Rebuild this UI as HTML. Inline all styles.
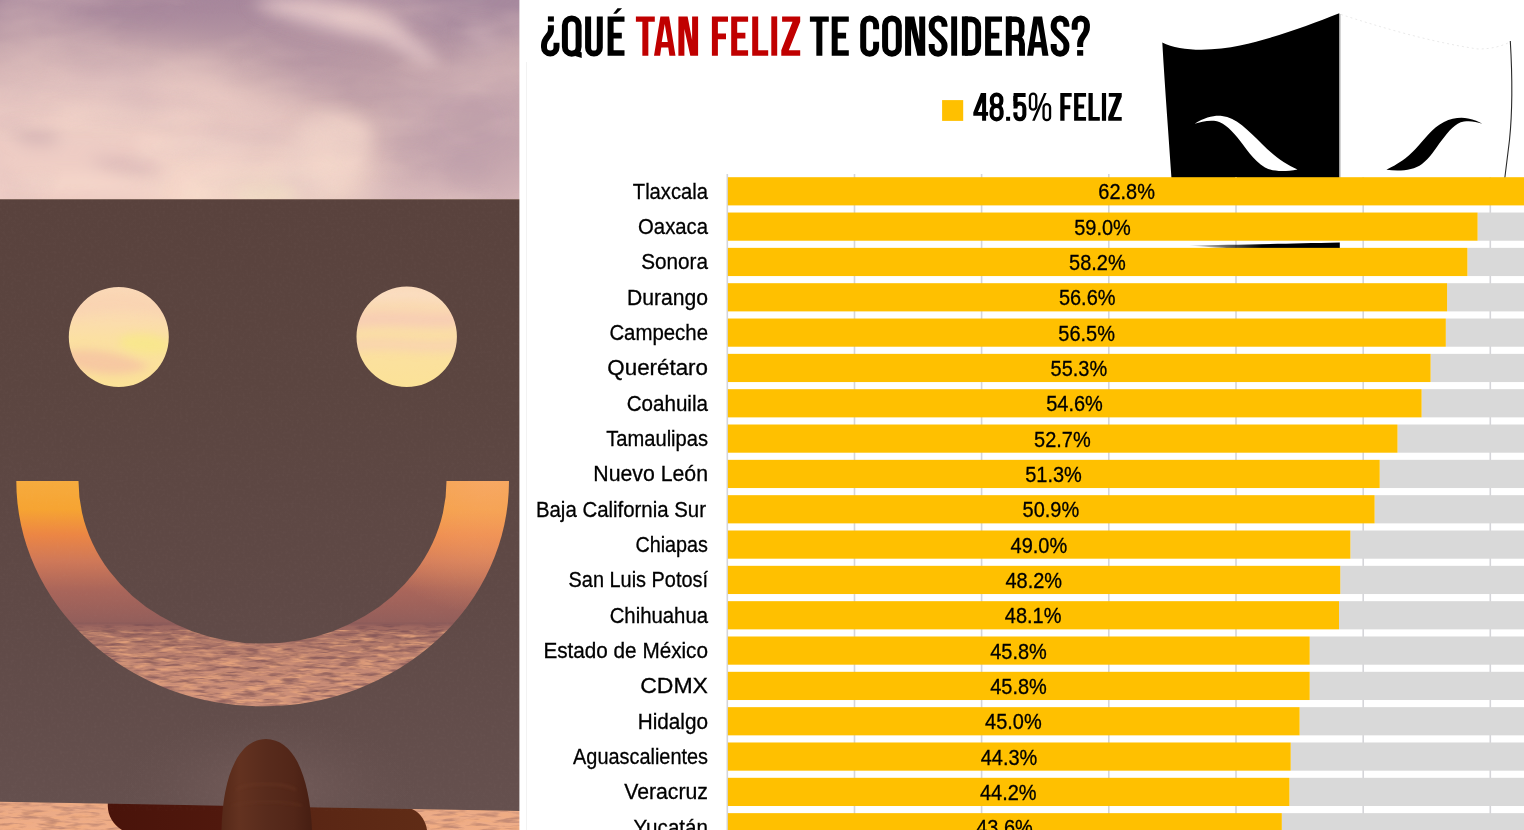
<!DOCTYPE html>
<html><head><meta charset="utf-8"><title>¿Qué tan feliz te consideras?</title>
<style>
html,body{margin:0;padding:0;background:#fff;}
body{width:1524px;height:830px;overflow:hidden;position:relative;font-family:"Liberation Sans",sans-serif;}
svg{position:absolute;left:0;top:0;display:block;}
text{font-family:"Liberation Sans",sans-serif;}
</style></head><body>

<svg width="522" height="830" viewBox="0 0 522 830">
<defs>
<clipPath id="pc"><rect x="0" y="0" width="520" height="830"/></clipPath>
<linearGradient id="sky" x1="0" y1="0" x2="0" y2="200" gradientUnits="userSpaceOnUse">
<stop offset="0" stop-color="#a98a9e"/><stop offset="0.3" stop-color="#bc9ca5"/><stop offset="0.6" stop-color="#c9a9ad"/><stop offset="1" stop-color="#d6b6b9"/>
</linearGradient>
<filter id="b30" x="-50%" y="-50%" width="200%" height="200%"><feGaussianBlur stdDeviation="20"/></filter>
<filter id="b12" x="-50%" y="-50%" width="200%" height="200%"><feGaussianBlur stdDeviation="8"/></filter>
<filter id="b5" x="-50%" y="-50%" width="200%" height="200%"><feGaussianBlur stdDeviation="4"/></filter>
<filter id="b2" x="-20%" y="-20%" width="140%" height="140%"><feGaussianBlur stdDeviation="1.6"/></filter>
<linearGradient id="scene" x1="0" y1="199" x2="0" y2="624" gradientUnits="userSpaceOnUse">
<stop offset="0" stop-color="#f6d4bc"/>
<stop offset="0.207" stop-color="#fad8b8"/>
<stop offset="0.285" stop-color="#fbdcae"/>
<stop offset="0.33" stop-color="#fbe0a2"/>
<stop offset="0.44" stop-color="#fbe298"/>
<stop offset="0.58" stop-color="#f8c060"/>
<stop offset="0.664" stop-color="#f6ab3e"/>
<stop offset="0.73" stop-color="#f6a432"/>
<stop offset="0.79" stop-color="#ec8644"/>
<stop offset="0.852" stop-color="#cf7858"/>
<stop offset="0.922" stop-color="#a9655a"/>
<stop offset="1" stop-color="#915e5b"/>
</linearGradient>
<radialGradient id="sceneR" cx="490" cy="465" r="150" gradientUnits="userSpaceOnUse">
<stop offset="0" stop-color="#f8a872" stop-opacity="0.8"/><stop offset="0.55" stop-color="#f4a068" stop-opacity="0.45"/><stop offset="1" stop-color="#ee9a68" stop-opacity="0"/>
</radialGradient>
<linearGradient id="ocean" x1="0" y1="624" x2="0" y2="830" gradientUnits="userSpaceOnUse">
<stop offset="0" stop-color="#9a645e"/><stop offset="0.08" stop-color="#ae7668"/><stop offset="0.22" stop-color="#c48874"/><stop offset="0.42" stop-color="#cf927a"/><stop offset="0.8" stop-color="#e6a684"/><stop offset="1" stop-color="#f0ae88"/>
</linearGradient>
<filter id="waves" color-interpolation-filters="sRGB" x="0" y="0" width="100%" height="100%">
<feTurbulence type="fractalNoise" baseFrequency="0.045 0.26" numOctaves="3" seed="7" result="n"/>
<feColorMatrix in="n" type="matrix" values="0 0 0 0 0.95  0 0 0 0 0.68  0 0 0 0 0.5  3.0 0 0 0 -1.3"/>
</filter>
<filter id="wavesD" color-interpolation-filters="sRGB" x="0" y="0" width="100%" height="100%">
<feTurbulence type="fractalNoise" baseFrequency="0.05 0.3" numOctaves="3" seed="23" result="n"/>
<feColorMatrix in="n" type="matrix" values="0 0 0 0 0.44  0 0 0 0 0.28  0 0 0 0 0.31  0 3.2 0 0 -1.45"/>
</filter>
<filter id="cloud" color-interpolation-filters="sRGB" x="0" y="0" width="100%" height="100%">
<feTurbulence type="fractalNoise" baseFrequency="0.007 0.017" numOctaves="4" seed="11"/>
<feColorMatrix type="matrix" values="0 0 0 0 0.96  0 0 0 0 0.84  0 0 0 0 0.80  2.4 0 0 0 -0.95"/>
</filter>
<filter id="cloudD" color-interpolation-filters="sRGB" x="0" y="0" width="100%" height="100%">
<feTurbulence type="fractalNoise" baseFrequency="0.006 0.013" numOctaves="3" seed="31"/>
<feColorMatrix type="matrix" values="0 0 0 0 0.64  0 0 0 0 0.52  0 0 0 0 0.62  0 2.2 0 0 -0.95"/>
</filter>
<filter id="grain" color-interpolation-filters="sRGB" x="0" y="0" width="100%" height="100%">
<feTurbulence type="fractalNoise" baseFrequency="0.35" numOctaves="2" seed="3"/>
<feColorMatrix type="matrix" values="0 0 0 0 1  0 0 0 0 0.9  0 0 0 0 0.9  0.5 0 0 0 -0.22"/>
</filter>
<linearGradient id="paper" x1="0" y1="199" x2="0" y2="810" gradientUnits="userSpaceOnUse">
<stop offset="0" stop-color="#59423d"/><stop offset="0.3" stop-color="#5b4540"/><stop offset="0.65" stop-color="#5f4946"/><stop offset="1" stop-color="#65504e"/>
</linearGradient>
<radialGradient id="paperGlow" cx="268" cy="790" r="150" gradientUnits="userSpaceOnUse" gradientTransform="translate(0 395) scale(1 0.5)">
<stop offset="0" stop-color="#7a6260" stop-opacity="0.75"/><stop offset="1" stop-color="#6a5452" stop-opacity="0"/>
</radialGradient>
<linearGradient id="thumb" x1="221" y1="0" x2="312" y2="0" gradientUnits="userSpaceOnUse">
<stop offset="0" stop-color="#552818"/><stop offset="0.2" stop-color="#633220"/><stop offset="0.5" stop-color="#582b1c"/><stop offset="0.8" stop-color="#522618"/><stop offset="1" stop-color="#461e12"/>
</linearGradient>
<linearGradient id="hand" x1="107" y1="0" x2="428" y2="0" gradientUnits="userSpaceOnUse">
<stop offset="0" stop-color="#49130a"/><stop offset="0.35" stop-color="#50180d"/><stop offset="0.65" stop-color="#5a2614"/><stop offset="1" stop-color="#602c16"/>
</linearGradient>
</defs>
<g clip-path="url(#pc)">
<!-- sky -->
<rect x="0" y="0" width="520" height="200" fill="url(#sky)"/>
<g filter="url(#b30)">
<ellipse cx="110" cy="160" rx="265" ry="82" fill="#eecdc5" opacity="0.97"/>
<ellipse cx="80" cy="80" rx="150" ry="30" fill="#e2c2bf" opacity="0.8"/>
<ellipse cx="130" cy="-6" rx="140" ry="26" fill="#a6879b" opacity="0.95"/>
<ellipse cx="475" cy="0" rx="80" ry="40" fill="#a7899e" opacity="0.95"/>
<ellipse cx="470" cy="120" rx="80" ry="70" fill="#c2a3ac" opacity="0.9"/>
<ellipse cx="320" cy="78" rx="66" ry="28" fill="#b797a3" opacity="0.95"/>
<ellipse cx="265" cy="200" rx="110" ry="50" fill="#f8dccb" opacity="0.97"/>
</g>
<g filter="url(#b12)">
<path d="M250,2 C280,-6 320,-4 350,6 C380,10 405,22 410,36 C425,48 440,58 436,66 C415,62 395,44 370,38 C335,34 290,22 250,2Z" fill="#e6c9ca" opacity="0.85"/>
<path d="M330,14 C350,8 385,12 400,26 C402,36 380,38 360,34 C345,30 335,24 330,14Z" fill="#ecd0cc" opacity="0.8"/>
<path d="M300,120 C330,108 360,112 370,130 C372,160 350,185 310,196 L262,198 C280,170 300,150 300,120Z" fill="#f2d5cb" opacity="0.7"/>
<path d="M8,132 C25,126 52,128 62,140 C45,148 22,146 8,132Z" fill="#cbaaae" opacity="0.7"/>
<path d="M88,160 C112,154 150,160 165,173 C140,178 108,172 88,160Z" fill="#cfaeb0" opacity="0.65"/>
<path d="M120,100 C140,96 165,108 172,124 C150,122 130,114 120,100Z" fill="#d8b8b8" opacity="0.55"/>
<path d="M462,30 C478,24 494,32 500,50 C484,48 470,42 462,30Z" fill="#ccaeb8" opacity="0.7"/>
<path d="M60,110 C110,100 170,104 220,120 C170,126 110,124 60,124Z" fill="#f6d8cc" opacity="0.7"/>
<path d="M20,176 C70,168 130,176 170,188 C120,194 60,192 20,190Z" fill="#f8dacc" opacity="0.7"/>
<path d="M140,140 C180,132 230,136 256,150 C220,156 175,154 140,150Z" fill="#f9dccf" opacity="0.75"/>
<ellipse cx="266" cy="196" rx="30" ry="11" fill="#ffeccb" opacity="0.95"/>
</g>
<g opacity="0.28"><rect x="0" y="0" width="520" height="200" filter="url(#cloud)"/></g>
<rect x="0" y="0" width="520" height="200" filter="url(#cloudD)" opacity="0.2"/>
<!-- scene behind paper -->
<rect x="0" y="199" width="520" height="426" fill="url(#scene)"/>
<rect x="300" y="430" width="220" height="195" fill="url(#sceneR)"/>
<!-- eye streaks -->
<g filter="url(#b5)">
<path d="M60,352 C90,346 120,352 150,366 C130,378 90,376 66,364Z" fill="#f6c4a2" opacity="0.85"/>
<path d="M120,338 C140,330 165,334 172,348 C160,358 135,354 120,346Z" fill="#f8e88a" opacity="0.8"/>
<path d="M70,300 C100,292 140,292 170,304 L170,318 C140,308 100,310 70,318Z" fill="#f9d2b2" opacity="0.7"/>
<path d="M350,314 C390,308 430,316 462,312 L462,326 C430,330 390,322 350,328Z" fill="#f7cbb4" opacity="0.85"/>
<path d="M350,340 C390,334 430,344 462,338 L462,350 C430,356 390,346 350,352Z" fill="#f8d0b2" opacity="0.75"/>
<path d="M356,292 C390,286 430,288 458,296 L458,304 C430,298 390,298 356,302Z" fill="#fbdfc6" opacity="0.7"/>
</g>
<!-- ocean -->
<rect x="0" y="624" width="520" height="206" fill="url(#ocean)"/>
<rect x="0" y="630" width="520" height="200" filter="url(#waves)" opacity="0.7"/>
<rect x="0" y="624" width="520" height="110" filter="url(#wavesD)" opacity="0.58"/>
<rect x="0" y="790" width="520" height="40" filter="url(#wavesD)" opacity="0.32"/>
<rect x="0" y="622.5" width="520" height="3" fill="#8a5a5a" opacity="0.5"/>
<!-- hand below paper -->
<path d="M107.8,803 L107.8,806 C108,816 113,824 122,830 L427,830 C426,822 421,813 412,809 L412,803Z" fill="url(#hand)"/>
<!-- paper -->
<path id="pp" fill="url(#paper)" fill-rule="evenodd" d="M0,199.3 H520 V811 L0,801.8 Z
M168.8,337 A50,50 0 1 0 68.8,337 A50,50 0 1 0 168.8,337 Z
M456.9,336.8 A50.2,50.2 0 1 0 356.5,336.8 A50.2,50.2 0 1 0 456.9,336.8 Z
M16.3,481 A246.35,225.3 0 0 0 509,481 L446.5,481 A184,162.5 0 0 1 78.5,481 Z"/>
<path fill="url(#paperGlow)" d="M0,706 H520 V811 L0,801.8Z"/>
<path fill-rule="evenodd" filter="url(#grain)" opacity="0.1" d="M0,199.3 H520 V811 L0,801.8 Z
M168.8,337 A50,50 0 1 0 68.8,337 A50,50 0 1 0 168.8,337 Z
M456.9,336.8 A50.2,50.2 0 1 0 356.5,336.8 A50.2,50.2 0 1 0 456.9,336.8 Z
M16.3,481 A246.35,225.3 0 0 0 509,481 L446.5,481 A184,162.5 0 0 1 78.5,481 Z"/>
<!-- thumb -->
<path d="M221.5,830 C222,803 226.5,778 235,762 C242.5,747.5 253,739 266,739 C279.5,739 290,748 297.5,762 C306,779 311,803 312,830Z" fill="url(#thumb)"/>
<path d="M236,790 C246,782 284,782 296,790" fill="none" stroke="#6e3a26" stroke-width="2" opacity="0.5" filter="url(#b2)"/>
<path d="M232,806 C250,800 284,800 302,806" fill="none" stroke="#6a3824" stroke-width="1.6" opacity="0.5" filter="url(#b2)"/>
</g>
<rect x="519.4" y="0" width="2" height="830" fill="#fff"/>
</svg>

<svg width="1524" height="830" viewBox="0 0 1524 830">
<g id="mask">
<defs>
<linearGradient id="sliv" x1="1189" y1="0" x2="1262" y2="0" gradientUnits="userSpaceOnUse">
<stop offset="0" stop-color="#000" stop-opacity="0"/><stop offset="0.45" stop-color="#000" stop-opacity="0.55"/><stop offset="1" stop-color="#000" stop-opacity="1"/>
</linearGradient>
</defs>
<path d="M1162.3,42.4 C1180,52 1215,51 1240,45.5 C1275,38 1310,25 1338.6,13.6 L1339.4,13.6 V180 H1171.6 C1169,140 1165,90 1162.3,42.4Z" fill="#000"/>
<path d="M1194.6,123.8 C1205,117 1215,115.2 1222,116 C1236,117.5 1248,130 1262,144 C1275,157 1285,164 1297.5,169.5 C1284,172 1272,171.5 1265,167.5 C1253,160.5 1245,146.5 1237,137 C1229.5,128 1222,121.5 1214,120.8 C1207,120.3 1200,121.8 1194.6,123.8Z" fill="#fff"/>
<path d="M1386.4,169.8 C1398,164 1407,158 1415,149.5 C1425,139 1432,128 1444,122 C1452,118 1461,117 1468,118.5 C1474,119.8 1479,121.8 1482.3,123.7 C1476,121.5 1470,120.6 1464,121.5 C1455,123 1449,131 1442,140 C1435,149 1430,158 1422,164 C1413,170.5 1400,171.5 1386.4,169.8Z" fill="#000"/>
<line x1="1340.3" y1="14" x2="1340.3" y2="178" stroke="#c4c4c4" stroke-width="0.9"/>
<path d="M1510.3,41 C1512.6,80 1512.6,110 1509.5,140 L1504.8,178" fill="none" stroke="#2a2a2a" stroke-width="1.1"/>
<path d="M1341,14.5 C1380,27 1430,42 1478,49 C1492,49 1502,46 1510,42" fill="none" stroke="#e6e6e6" stroke-width="0.9" stroke-dasharray="2 3"/>
</g>

<line x1="526.5" y1="62" x2="526.5" y2="830" stroke="#f2f2f2" stroke-width="1"/>
<g stroke="#d5d5d9" stroke-width="1.6">
<line x1="727.3" y1="174" x2="727.3" y2="830"/>
<line x1="854.5" y1="174" x2="854.5" y2="830"/>
<line x1="981.6" y1="174" x2="981.6" y2="830"/>
<line x1="1108.8" y1="174" x2="1108.8" y2="830"/>
<line x1="1236.0" y1="177" x2="1236.0" y2="830"/>
<line x1="1363.2" y1="177" x2="1363.2" y2="830"/>
<line x1="1490.3" y1="177" x2="1490.3" y2="830"/>
</g>
<path d="M1189,245 C1230,245 1275,243.8 1339.8,242.4 V248.6 H1245 C1225,248.2 1205,246.6 1189,245.4Z" fill="url(#sliv)"/>
<rect x="1525.9" y="177.20" width="4.1" height="28.2" fill="#d9d9d9"/>
<rect x="727.9" y="177.20" width="798.0" height="28.2" fill="#ffc000"/>
<rect x="1477.6" y="212.53" width="52.4" height="28.2" fill="#d9d9d9"/>
<rect x="727.9" y="212.53" width="749.7" height="28.2" fill="#ffc000"/>
<rect x="1467.4" y="247.86" width="62.6" height="28.2" fill="#d9d9d9"/>
<rect x="727.9" y="247.86" width="739.5" height="28.2" fill="#ffc000"/>
<rect x="1447.1" y="283.19" width="82.9" height="28.2" fill="#d9d9d9"/>
<rect x="727.9" y="283.19" width="719.2" height="28.2" fill="#ffc000"/>
<rect x="1445.8" y="318.52" width="84.2" height="28.2" fill="#d9d9d9"/>
<rect x="727.9" y="318.52" width="717.9" height="28.2" fill="#ffc000"/>
<rect x="1430.6" y="353.85" width="99.4" height="28.2" fill="#d9d9d9"/>
<rect x="727.9" y="353.85" width="702.7" height="28.2" fill="#ffc000"/>
<rect x="1421.6" y="389.18" width="108.4" height="28.2" fill="#d9d9d9"/>
<rect x="727.9" y="389.18" width="693.7" height="28.2" fill="#ffc000"/>
<rect x="1397.5" y="424.51" width="132.5" height="28.2" fill="#d9d9d9"/>
<rect x="727.9" y="424.51" width="669.6" height="28.2" fill="#ffc000"/>
<rect x="1379.7" y="459.84" width="150.3" height="28.2" fill="#d9d9d9"/>
<rect x="727.9" y="459.84" width="651.8" height="28.2" fill="#ffc000"/>
<rect x="1374.6" y="495.17" width="155.4" height="28.2" fill="#d9d9d9"/>
<rect x="727.9" y="495.17" width="646.7" height="28.2" fill="#ffc000"/>
<rect x="1350.4" y="530.50" width="179.6" height="28.2" fill="#d9d9d9"/>
<rect x="727.9" y="530.50" width="622.5" height="28.2" fill="#ffc000"/>
<rect x="1340.3" y="565.83" width="189.7" height="28.2" fill="#d9d9d9"/>
<rect x="727.9" y="565.83" width="612.4" height="28.2" fill="#ffc000"/>
<rect x="1339.0" y="601.16" width="191.0" height="28.2" fill="#d9d9d9"/>
<rect x="727.9" y="601.16" width="611.1" height="28.2" fill="#ffc000"/>
<rect x="1309.7" y="636.49" width="220.3" height="28.2" fill="#d9d9d9"/>
<rect x="727.9" y="636.49" width="581.8" height="28.2" fill="#ffc000"/>
<rect x="1309.7" y="671.82" width="220.3" height="28.2" fill="#d9d9d9"/>
<rect x="727.9" y="671.82" width="581.8" height="28.2" fill="#ffc000"/>
<rect x="1299.6" y="707.15" width="230.4" height="28.2" fill="#d9d9d9"/>
<rect x="727.9" y="707.15" width="571.7" height="28.2" fill="#ffc000"/>
<rect x="1290.7" y="742.48" width="239.3" height="28.2" fill="#d9d9d9"/>
<rect x="727.9" y="742.48" width="562.8" height="28.2" fill="#ffc000"/>
<rect x="1289.4" y="777.81" width="240.6" height="28.2" fill="#d9d9d9"/>
<rect x="727.9" y="777.81" width="561.5" height="28.2" fill="#ffc000"/>
<rect x="1281.8" y="813.14" width="248.2" height="28.2" fill="#d9d9d9"/>
<rect x="727.9" y="813.14" width="553.9" height="28.2" fill="#ffc000"/>
<g font-size="21.3" fill="#000" stroke="#000" stroke-width="0.3">
<text x="708.0" y="198.6" text-anchor="end" textLength="75.2" lengthAdjust="spacingAndGlyphs">Tlaxcala</text>
<text x="1126.6" y="199.4" font-size="21.9" text-anchor="middle" textLength="56.6" lengthAdjust="spacingAndGlyphs">62.8%</text>
<text x="708.0" y="233.9" text-anchor="end" textLength="69.9" lengthAdjust="spacingAndGlyphs">Oaxaca</text>
<text x="1102.5" y="234.7" font-size="21.9" text-anchor="middle" textLength="56.6" lengthAdjust="spacingAndGlyphs">59.0%</text>
<text x="708.0" y="269.3" text-anchor="end" textLength="66.8" lengthAdjust="spacingAndGlyphs">Sonora</text>
<text x="1097.4" y="270.1" font-size="21.9" text-anchor="middle" textLength="56.6" lengthAdjust="spacingAndGlyphs">58.2%</text>
<text x="708.0" y="304.6" text-anchor="end" textLength="81.1" lengthAdjust="spacingAndGlyphs">Durango</text>
<text x="1087.2" y="305.4" font-size="21.9" text-anchor="middle" textLength="56.6" lengthAdjust="spacingAndGlyphs">56.6%</text>
<text x="708.0" y="339.9" text-anchor="end" textLength="98.6" lengthAdjust="spacingAndGlyphs">Campeche</text>
<text x="1086.6" y="340.7" font-size="21.9" text-anchor="middle" textLength="56.6" lengthAdjust="spacingAndGlyphs">56.5%</text>
<text x="708.0" y="375.2" text-anchor="end" textLength="100.7" lengthAdjust="spacingAndGlyphs">Querétaro</text>
<text x="1078.9" y="376.1" font-size="21.9" text-anchor="middle" textLength="56.6" lengthAdjust="spacingAndGlyphs">55.3%</text>
<text x="708.0" y="410.6" text-anchor="end" textLength="81.3" lengthAdjust="spacingAndGlyphs">Coahuila</text>
<text x="1074.5" y="411.4" font-size="21.9" text-anchor="middle" textLength="56.6" lengthAdjust="spacingAndGlyphs">54.6%</text>
<text x="708.0" y="445.9" text-anchor="end" textLength="101.7" lengthAdjust="spacingAndGlyphs">Tamaulipas</text>
<text x="1062.4" y="446.7" font-size="21.9" text-anchor="middle" textLength="56.6" lengthAdjust="spacingAndGlyphs">52.7%</text>
<text x="708.0" y="481.2" text-anchor="end" textLength="114.7" lengthAdjust="spacingAndGlyphs">Nuevo León</text>
<text x="1053.5" y="482.0" font-size="21.9" text-anchor="middle" textLength="56.6" lengthAdjust="spacingAndGlyphs">51.3%</text>
<text x="706.0" y="516.6" text-anchor="end" textLength="170.1" lengthAdjust="spacingAndGlyphs">Baja California Sur</text>
<text x="1050.9" y="517.4" font-size="21.9" text-anchor="middle" textLength="56.6" lengthAdjust="spacingAndGlyphs">50.9%</text>
<text x="708.0" y="551.9" text-anchor="end" textLength="72.6" lengthAdjust="spacingAndGlyphs">Chiapas</text>
<text x="1038.9" y="552.7" font-size="21.9" text-anchor="middle" textLength="56.6" lengthAdjust="spacingAndGlyphs">49.0%</text>
<text x="708.0" y="587.2" text-anchor="end" textLength="139.4" lengthAdjust="spacingAndGlyphs">San Luis Potosí</text>
<text x="1033.8" y="588.0" font-size="21.9" text-anchor="middle" textLength="56.6" lengthAdjust="spacingAndGlyphs">48.2%</text>
<text x="708.0" y="622.6" text-anchor="end" textLength="98.3" lengthAdjust="spacingAndGlyphs">Chihuahua</text>
<text x="1033.1" y="623.4" font-size="21.9" text-anchor="middle" textLength="56.6" lengthAdjust="spacingAndGlyphs">48.1%</text>
<text x="708.0" y="657.9" text-anchor="end" textLength="164.6" lengthAdjust="spacingAndGlyphs">Estado de México</text>
<text x="1018.5" y="658.7" font-size="21.9" text-anchor="middle" textLength="56.6" lengthAdjust="spacingAndGlyphs">45.8%</text>
<text x="708.0" y="693.2" text-anchor="end" textLength="67.8" lengthAdjust="spacingAndGlyphs">CDMX</text>
<text x="1018.5" y="694.0" font-size="21.9" text-anchor="middle" textLength="56.6" lengthAdjust="spacingAndGlyphs">45.8%</text>
<text x="708.0" y="728.5" text-anchor="end" textLength="70.3" lengthAdjust="spacingAndGlyphs">Hidalgo</text>
<text x="1013.4" y="729.3" font-size="21.9" text-anchor="middle" textLength="56.6" lengthAdjust="spacingAndGlyphs">45.0%</text>
<text x="708.0" y="763.9" text-anchor="end" textLength="134.9" lengthAdjust="spacingAndGlyphs">Aguascalientes</text>
<text x="1009.0" y="764.7" font-size="21.9" text-anchor="middle" textLength="56.6" lengthAdjust="spacingAndGlyphs">44.3%</text>
<text x="708.0" y="799.2" text-anchor="end" textLength="83.8" lengthAdjust="spacingAndGlyphs">Veracruz</text>
<text x="1008.3" y="800.0" font-size="21.9" text-anchor="middle" textLength="56.6" lengthAdjust="spacingAndGlyphs">44.2%</text>
<text x="708.0" y="834.5" text-anchor="end" textLength="74.5" lengthAdjust="spacingAndGlyphs">Yucatán</text>
<text x="1004.5" y="835.3" font-size="21.9" text-anchor="middle" textLength="56.6" lengthAdjust="spacingAndGlyphs">43.6%</text>
</g>
<g id="title">
<g transform="translate(541.0,16.4)" color="#000"><path d="M6.9,0H12.9V5.2H6.9Z" fill="currentColor" fill-rule="evenodd" /><path d="M9.9,8.9V13.5C9.9,19.5 3,21 3,28.6V30.849999999999994A6.25,6.25 0 0 0 15.5,30.849999999999994V26.4" fill="none" stroke="currentColor" stroke-width="6.0" /></g>
<g transform="translate(561.9,16.4)" color="#000"><path d="M3,8.85A6.85,6.85 0 0 1 16.7,8.85V30.449999999999996A6.85,6.85 0 0 1 3,30.449999999999996Z" fill="none" stroke="currentColor" stroke-width="6.0" /><path d="M19.8,36.2V41.5L13.3,39.7L13.8,35.5L17.4,34.6Z" fill="currentColor" fill-rule="evenodd" /></g>
<g transform="translate(585.1,16.4)" color="#000"><path d="M3,0V31.249999999999993A5.85,5.85 0 0 0 14.7,31.249999999999993V0" fill="none" stroke="currentColor" stroke-width="6.0" /></g>
<g transform="translate(607.6,16.4)" color="#000"><path d="M0,0H16.9V5.4H6V16.4H14.2V22H6V33.8H16.9V39.3H0Z" fill="currentColor" fill-rule="evenodd" /></g>
<g transform="translate(635.9,16.4)" color="#c00000"><path d="M0,0H18.9V5.4H12.45V39.3H6.449999999999999V5.4H0Z" fill="currentColor" fill-rule="evenodd" /></g>
<g transform="translate(654.0,16.4)" color="#c00000"><path d="M0,39.3L6.4,0H15.1L21.5,39.3H15.4L14.25,31.1H7.25L6.1,39.3Z M10.75,7.6L13.75,25.6H7.75Z" fill="currentColor" fill-rule="evenodd" /></g>
<g transform="translate(678.4,16.4)" color="#c00000"><path d="M0,0H9.2L13.7,23.5V0H19.7V39.3H11.899999999999999L6,12.6V39.3H0Z" fill="currentColor" fill-rule="evenodd" /></g>
<g transform="translate(711.9,16.4)" color="#c00000"><path d="M0,0H16.1V5.4H6V17.2H14.100000000000001V22.9H6V39.3H0Z" fill="currentColor" fill-rule="evenodd" /></g>
<g transform="translate(731.2,16.4)" color="#c00000"><path d="M0,0H16.9V5.4H6V16.4H14.2V22H6V33.8H16.9V39.3H0Z" fill="currentColor" fill-rule="evenodd" /></g>
<g transform="translate(752.2,16.4)" color="#c00000"><path d="M0,0H6V33.8H16.0V39.3H0Z" fill="currentColor" fill-rule="evenodd" /></g>
<g transform="translate(771.3,16.4)" color="#c00000"><path d="M0,0H5.9V39.3H0Z" fill="currentColor" fill-rule="evenodd" /></g>
<g transform="translate(781.3,16.4)" color="#c00000"><path d="M0.8,0H18.9V5.3L7.5,33.9H18.9V39.3H0V33.9L11.2,5.3H0.8Z" fill="currentColor" fill-rule="evenodd" /></g>
<g transform="translate(809.9,16.4)" color="#000"><path d="M0,0H18.9V5.4H12.45V39.3H6.449999999999999V5.4H0Z" fill="currentColor" fill-rule="evenodd" /></g>
<g transform="translate(831.7,16.4)" color="#000"><path d="M0,0H17.1V5.4H6V16.4H14.400000000000002V22H6V33.8H17.1V39.3H0Z" fill="currentColor" fill-rule="evenodd" /></g>
<g transform="translate(860.2,16.4)" color="#000"><path d="M15.899999999999999,12.8V8.45A6.449999999999999,6.449999999999999 0 0 0 3,8.45V30.849999999999998A6.449999999999999,6.449999999999999 0 0 0 15.899999999999999,30.849999999999998V25.4" fill="none" stroke="currentColor" stroke-width="6.0" /></g>
<g transform="translate(882.1,16.4)" color="#000"><path d="M3,8.85A6.85,6.85 0 0 1 16.7,8.85V30.449999999999996A6.85,6.85 0 0 1 3,30.449999999999996Z" fill="none" stroke="currentColor" stroke-width="6.0" /></g>
<g transform="translate(905.1,16.4)" color="#000"><path d="M0,0H9.2L14.100000000000001,23.5V0H20.1V39.3H12.3L6,12.6V39.3H0Z" fill="currentColor" fill-rule="evenodd" /></g>
<g transform="translate(928.7,16.4)" color="#000"><path d="M15.8,10.4V8.4A6.4,6.4 0 0 0 3,8.4V10.8C3,17.5 15.8,21.5 15.8,28.8V30.9A6.4,6.4 0 0 1 3,30.9V27.6" fill="none" stroke="currentColor" stroke-width="6.0" /></g>
<g transform="translate(951.2,16.4)" color="#000"><path d="M0,0H5.9V39.3H0Z" fill="currentColor" fill-rule="evenodd" /></g>
<g transform="translate(961.9,16.4)" color="#000"><path d="M0,0H6V39.3H0Z" fill="currentColor" fill-rule="evenodd" /><path d="M3,2.9H9.3A7,7.4 0 0 1 16.3,10.3V28.999999999999996A7,7.4 0 0 1 9.3,36.4H3" fill="none" stroke="currentColor" stroke-width="5.8" /></g>
<g transform="translate(985.1,16.4)" color="#000"><path d="M0,0H16.9V5.4H6V16.4H14.2V22H6V33.8H16.9V39.3H0Z" fill="currentColor" fill-rule="evenodd" /></g>
<g transform="translate(1005.8,16.4)" color="#000"><path d="M0,0H6V39.3H0Z" fill="currentColor" fill-rule="evenodd" /><path d="M3,2.8H9.6A6.3,6.3 0 0 1 15.899999999999999,9.1V15.0A6.3,6.3 0 0 1 9.6,21.3H3" fill="none" stroke="currentColor" stroke-width="5.6" /><path d="M8.5,21.3H10A6.2,6.2 0 0 1 16.2,27.5V39.3" fill="none" stroke="currentColor" stroke-width="5.9" /></g>
<g transform="translate(1027.1,16.4)" color="#000"><path d="M0,39.3L6.4,0H14.999999999999998L21.4,39.3H15.299999999999999L14.149999999999999,31.1H7.25L6.1,39.3Z M10.7,7.6L13.7,25.6H7.699999999999999Z" fill="currentColor" fill-rule="evenodd" /></g>
<g transform="translate(1050.7,16.4)" color="#000"><path d="M15.7,10.4V8.35A6.35,6.35 0 0 0 3,8.35V10.8C3,17.5 15.7,21.5 15.7,28.8V30.949999999999996A6.35,6.35 0 0 1 3,30.949999999999996V27.6" fill="none" stroke="currentColor" stroke-width="6.0" /></g>
<g transform="translate(1071.7,16.4)" color="#000"><path d="M5.4,33.7H11.5V39.3H5.4Z" fill="currentColor" fill-rule="evenodd" /><path d="M3,13.3V8.2A6.1,6.1 0 0 1 15.2,8.2V10.8C15.2,18.5 8.45,20.5 8.45,27V30.5" fill="none" stroke="currentColor" stroke-width="6.0" /></g>
<path d="M613.2,13.8H616.4L622.1,8.3H617.5Z" fill="#000"/>
<rect x="942.1" y="100.1" width="21.1" height="20.8" fill="#ffc000"/>
<g transform="translate(1060.3,93.0) scale(0.708)" color="#000"><path d="M0,0H16.1V5.4H6V17.2H14.100000000000001V22.9H6V39.3H0Z" fill="currentColor" fill-rule="evenodd" /></g>
<g transform="translate(1074.1,93.0) scale(0.708)" color="#000"><path d="M0,0H16.9V5.4H6V16.4H14.2V22H6V33.8H16.9V39.3H0Z" fill="currentColor" fill-rule="evenodd" /></g>
<g transform="translate(1088.5,93.0) scale(0.708)" color="#000"><path d="M0,0H6V33.8H16.0V39.3H0Z" fill="currentColor" fill-rule="evenodd" /></g>
<g transform="translate(1101.9,93.0) scale(0.708)" color="#000"><path d="M0,0H5.9V39.3H0Z" fill="currentColor" fill-rule="evenodd" /></g>
<g transform="translate(1108.2,93.0) scale(0.708)" color="#000"><path d="M0.8,0H19.1V5.3L7.5,33.9H19.1V39.3H0V33.9L11.2,5.3H0.8Z" fill="currentColor" fill-rule="evenodd" /></g>
<path fill="#000" fill-rule="evenodd" d="M980.9,93H986.1V112.05H988.1V115.85H986.1V120.7H982.1V115.85H973.3V112.4Z M982.1,102.3V112.05H977.9Z"/>
<rect x="991.85" y="94.45" width="9.5" height="11.5" rx="4.75" ry="4.75" fill="none" stroke="#000" stroke-width="4.1"/>
<rect x="991.6" y="105.95" width="10" height="13.4" rx="5" ry="5" fill="none" stroke="#000" stroke-width="4.1"/>
<rect x="1006.1" y="116.8" width="4" height="4" fill="#000"/>
<path fill="#000" d="M1013.6,93H1025.6V96.9H1017.4V101H1013.4Z"/>
<path fill="none" stroke="#000" stroke-width="4.05" d="M1015.4,96V106.2M1015.45,108.4C1015.45,105 1017.2,103.5 1019.9,103.5A4.45,4.45 0 0 1 1024.35,107.95V114.8A4.5,4.5 0 0 1 1015.35,114.8V112.3"/>
<rect x="1029.95" y="93.55" width="6.3" height="16" rx="3.15" ry="3.15" fill="none" stroke="#000" stroke-width="2.3"/>
<rect x="1043.55" y="104.15" width="6.5" height="16" rx="3.25" ry="3.25" fill="none" stroke="#000" stroke-width="2.3"/>
<path d="M1044.0,93H1046.6L1034.8,120.7H1032.2Z" fill="#000"/>
</g>
</svg>
</body></html>
